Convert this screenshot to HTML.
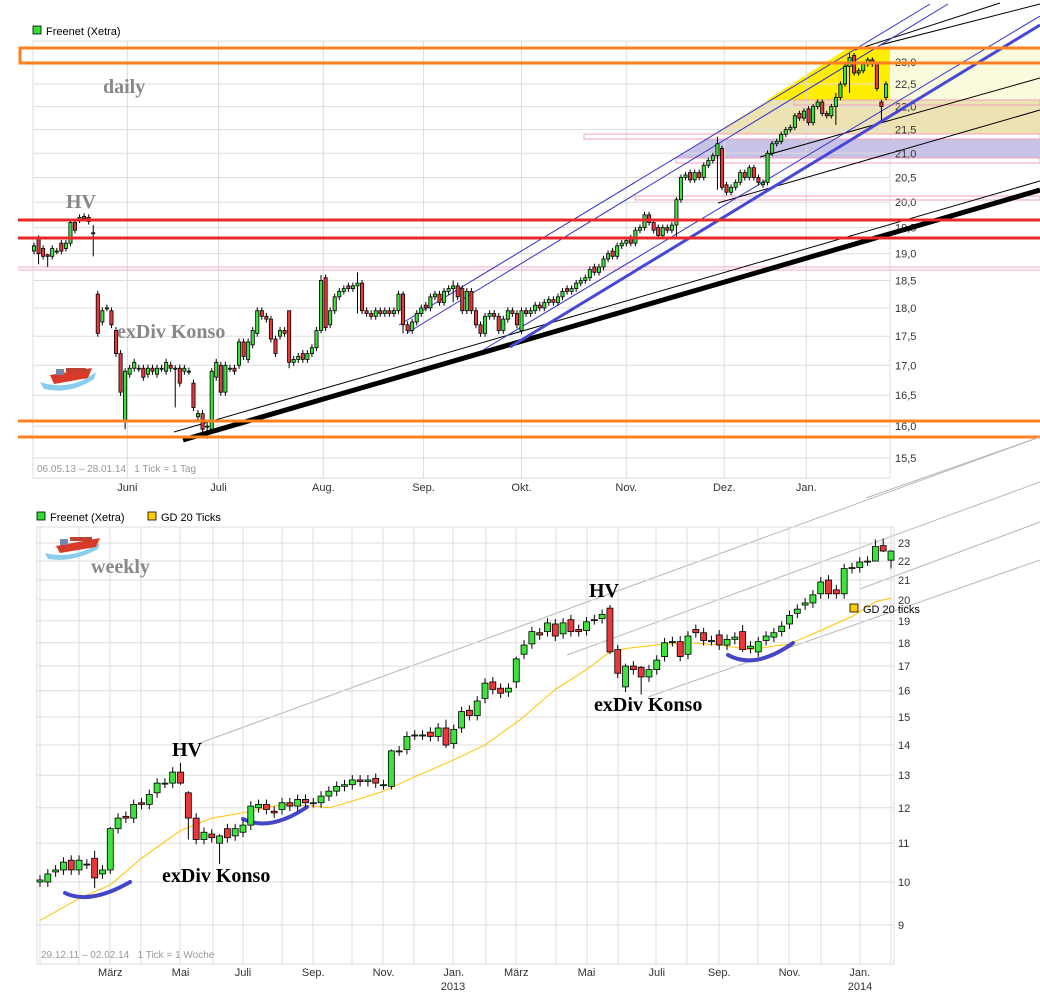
<!DOCTYPE html>
<html><head><meta charset="utf-8"><style>
html,body{margin:0;padding:0;background:#fff;}
svg{display:block;font-family:"Liberation Sans",sans-serif;}
.ann{font-family:"Liberation Serif",serif;font-weight:bold;font-size:20px;}
</style></head><body>
<svg id="chart" width="1040" height="998" viewBox="0 0 1040 998" xmlns="http://www.w3.org/2000/svg">
<g id="daily"></g>
<g id="weekly"></g>
</svg>
<script>
// ===== Daily data (06.05.13 - 28.01.14) =====
const dOpen = [19.05,19.3,19.1,18.98,18.95,19.05,19.2,19.1,19.2,19.6,19.65,19.72,19.7,19.4,
18.25,17.75,18.0,17.95,17.6,17.2,
16.1,16.85,16.95,16.95,16.95,16.85,16.95,16.85,16.95,16.9,17.0,16.95,16.95,16.9,16.9,16.7,16.15,16.2,16.0,
15.95,16.8,17.0,16.55,16.95,16.95,17.0,17.4,17.1,17.35,
17.55,17.95,17.85,17.8,17.45,17.5,17.6,
17.95,17.05,17.1,17.2,17.1,17.2,17.3,
17.6,18.55,17.7,17.95,18.2,18.3,18.4,18.35,
18.4,18.45,17.95,17.9,17.85,17.95,17.9,17.95,17.9,17.95,
18.25,17.7,17.6,17.75,17.9,18.05,18.0,18.2,18.25,18.1,18.3,
18.35,18.4,18.35,17.95,18.3,17.95,17.7,17.55,
17.85,17.9,17.85,17.6,17.8,17.95,17.9,
17.6,17.95,17.9,17.95,18.05,18.0,18.1,18.15,
18.1,18.2,18.35,18.3,18.35,18.45,18.5,18.55,18.75,
18.65,18.75,18.9,19.05,18.95,19.15,19.2,19.3,19.2,
19.45,19.5,19.75,19.6,19.5,19.35,19.5,19.45,
19.55,20.05,20.5,20.6,20.45,20.6,20.5,20.75,20.85,
20.95,21.1,20.35,20.2,20.3,20.4,
20.6,20.5,20.7,20.5,20.35,20.4,
21.0,21.2,21.25,21.4,21.5,21.55,
21.85,21.75,21.95,21.65,22.0,22.1,21.85,21.8,
22.0,22.2,22.5,22.9,23.15,22.75,
22.8,22.95,23.05,22.95,22.1,22.2];
const dClose = [19.15,19.0,18.95,18.95,19.1,19.05,19.05,19.2,19.6,19.45,19.7,19.68,19.62,19.4,
17.55,17.95,18.0,17.7,17.2,16.55,
16.9,16.95,17.05,16.95,16.8,16.95,16.9,16.95,16.95,17.05,16.95,16.95,16.7,16.95,16.9,16.3,16.2,15.95,16.0,
16.9,17.05,16.55,17.0,16.95,16.9,17.4,17.15,17.4,17.6,
17.95,17.85,17.8,17.45,17.2,17.6,17.55,
17.05,17.1,17.15,17.1,17.2,17.3,17.6,
18.5,17.65,17.95,18.2,18.3,18.35,18.35,18.4,
18.45,17.95,17.9,17.85,17.95,17.9,17.95,17.9,17.95,18.25,
17.7,17.6,17.75,17.9,18.0,18.0,18.2,18.25,18.1,18.3,18.35,
18.4,18.2,17.95,18.3,17.95,17.7,17.55,17.85,
17.9,17.85,17.6,17.8,17.95,17.9,17.7,
17.95,17.9,17.95,18.05,18.0,18.1,18.15,18.1,
18.2,18.3,18.3,18.35,18.45,18.5,18.55,18.7,18.65,
18.75,18.9,19.0,18.95,19.15,19.2,19.25,19.2,19.45,
19.5,19.75,19.6,19.45,19.35,19.5,19.45,19.55,
20.05,20.5,20.55,20.45,20.6,20.5,20.75,20.85,20.95,
21.2,20.3,20.2,20.3,20.4,20.6,
20.5,20.7,20.5,20.4,20.4,21.0,
21.2,21.25,21.4,21.5,21.55,21.8,
21.75,21.9,21.65,22.0,22.1,21.85,21.8,22.0,
22.2,22.5,22.9,23.1,22.75,22.8,
22.95,23.05,22.95,22.4,22.0,22.5];
const dWick = {1:[19.35,18.8],3:[19.0,18.75],13:[19.55,18.95],20:[16.95,15.95],31:[17.0,16.3],38:[16.05,15.8],39:[16.95,15.9],56:[17.95,16.95],63:[18.6,17.55],71:[18.65,17.9],81:[18.3,17.55],92:[18.5,18.1],141:[20.1,19.3],150:[21.35,20.25],176:[22.3,21.6],179:[23.2,22.3],186:[22.15,21.7]};
const dTicks = [23.0,22.5,22.0,21.5,21.0,20.5,20.0,19.5,19.0,18.5,18.0,17.5,17.0,16.5,16.0,15.5];
const dMonths = ["Juni","Juli","Aug.","Sep.","Okt.","Nov.","Dez.","Jan."];
const dMonthIdx = [20.5,40.5,63.5,85.5,107,130,151.5,169.5];

// ===== Weekly data (29.12.11 - 02.02.14) =====
const wOpen = [10.0,10.0,10.25,10.3,10.55,10.3,10.45,10.6,10.2,10.3,
11.4,11.75,11.7,12.15,12.1,12.45,12.75,12.75,13.1,12.45,
11.7,11.1,11.25,11.0,11.4,11.2,11.3,11.5,12.0,12.1,
11.9,11.95,12.15,12.05,12.25,12.15,12.15,12.35,12.5,12.65,
12.7,12.85,12.8,12.9,12.7,12.65,13.8,13.85,14.35,14.35,
14.45,14.3,14.6,14.05,14.6,15.25,15.05,15.7,16.35,16.1,15.95,16.35,
17.5,17.95,18.45,18.5,18.85,18.4,19.05,18.6,18.55,19.05,
19.1,19.6,17.7,16.15,17.0,16.95,16.55,16.85,17.4,18.05,
18.05,17.5,18.6,18.45,18.1,18.35,17.9,18.15,18.5,17.75,
17.6,18.1,18.25,18.5,18.85,19.35,19.75,19.85,20.3,21.0,
20.5,20.3,21.6,21.65,22.0,22.0,22.85,22.05];
const wClose = [10.05,10.2,10.3,10.5,10.3,10.55,10.45,10.1,10.3,11.4,
11.7,11.7,12.1,12.1,12.4,12.75,12.75,13.1,12.75,11.7,
11.1,11.3,11.15,11.2,11.15,11.4,11.5,12.05,12.1,11.95,
11.85,12.15,12.05,12.25,12.15,12.15,12.35,12.5,12.65,12.7,
12.85,12.8,12.85,12.75,12.7,13.8,13.8,14.3,14.35,14.35,
14.3,14.6,14.0,14.55,15.2,15.05,15.6,16.3,16.05,15.9,16.1,17.3,
17.9,18.5,18.35,18.9,18.3,18.9,18.5,18.5,18.95,19.05,
19.3,17.6,16.7,17.0,16.85,16.55,16.85,17.25,18.0,18.05,
17.4,18.3,18.45,18.1,18.1,17.9,18.15,18.25,17.7,17.85,
18.05,18.3,18.45,18.75,19.25,19.55,19.85,20.25,20.9,20.3,
20.3,21.6,21.65,21.95,22.0,22.8,22.55,22.55];
const wWick = {7:[10.8,9.85],9:[11.45,10.2],18:[13.4,12.7],19:[12.5,11.1],23:[11.25,10.45],45:[13.85,12.55],52:[14.9,13.9],61:[17.4,16.1],73:[19.75,17.5],75:[17.1,15.95],77:[17.0,15.85],82:[18.3,17.2],90:[18.8,17.6],107:[23.2,22.0],108:[23.25,22.5],109:[22.6,21.6]};
const gdIdx = [0,5,9,13,18,22,26,31,35,37,40,44,48,53,57,61.5,66,70,73,75,79,83,87,91,96,100,104,107,109];
const gdVal = [9.1,9.6,9.93,10.6,11.35,11.7,11.85,12.1,12.05,12.0,12.2,12.5,12.95,13.5,14.0,14.9,16.05,16.85,17.6,17.75,17.9,18.0,17.9,17.7,17.95,18.55,19.2,19.9,20.1];
const wTicks = [23,22,21,20,19,18,17,16,15,14,13,12,11,10,9];
const wMonths = ["März","Mai","Juli","Sep.","Nov.","Jan.","März","Mai","Juli","Sep.","Nov.","Jan."];
const wMonthIdx = [9,18,26,35,44,53,61,70,79,87,96,105];

const NS="http://www.w3.org/2000/svg";
function mk(parent,tag,attrs){const e=document.createElementNS(NS,tag);for(const k in attrs)e.setAttribute(k,attrs[k]);parent.appendChild(e);return e;}
const GREEN="#3de23d",RED="#e8383c";

// ---------- DAILY ----------
const D=document.getElementById('daily');
const dL=33,dR=890,dT=41,dB=478;
const dX=i=>34+i*(886-34)/(dClose.length-1);
const dY=v=>62+Math.log(23/v)*1003.3;
let r=mk(D,'rect',{x:dL,y:dT,width:dR-dL,height:dB-dT,fill:'#fff',stroke:'#ddd'});

// zones
let z=mk(D,'polygon',{points:'848,48 890,48 890,100 767,100',fill:'#ffee00'});

z=mk(D,'rect',{x:890,y:48,width:150,height:52,fill:'#fafadc'});

z=mk(D,'polygon',{points:'767,100 1040,100 1040,134 714,134',fill:'#ede2b4'});

z=mk(D,'polygon',{points:'706,139 1040,139 1040,158 675,158',fill:'#c8c2e6'});

// grid
dTicks.forEach(v=>{const y=dY(v);
 let g=mk(D,'line',{x1:dL,x2:dR,y1:y,y2:y,stroke:'#ddd'});
 let t=mk(D,'text',{x:895,y:y+4,'font-size':11,fill:'#333'});t.textContent=v.toFixed(1).replace('.',',');
 });
dMonths.forEach((m,k)=>{const x=dX(dMonthIdx[k]);
 let g=mk(D,'line',{x1:x,x2:x,y1:dT,y2:dB,stroke:'#ddd'});
 let t=mk(D,'text',{x:x,y:491,'font-size':11,fill:'#333','text-anchor':'middle'});t.textContent=m;
 });
// pink rects
[[794,100,246,5],[584,134,456,5],[676,158,364,5],[635,196,405,4]].forEach(a=>{
 let p=mk(D,'rect',{x:a[0],y:a[1],width:a[2],height:a[3],fill:'none',stroke:'#f4a0b8'});
 });
// horizontal levels
let h=mk(D,'line',{x1:18,x2:1040,y1:267,y2:267,stroke:'#f4a8c0'});
h=mk(D,'line',{x1:18,x2:1040,y1:270,y2:270,stroke:'#f4a8c0'});
// annotation lines
const lines=[[183,440,1040,190,'#000',5,'thick-black-trend'],[174,432,1040,181,'#000',1,'thin-black-trend'],
[718,203,1040,110,'#000',1,'black-trend-line'],[760,157,1040,78,'#000',1,'black-trend-line'],[880,45,1040,4,'#000',1,'black-trend-line'],[855,50,1000,3,'#000',1,'black-trend-line'],
[399,325,930,4,'#3333cc',1,'blue-channel-line'],[407,333,948,4,'#3333cc',1,'blue-channel-line'],[483,350,1040,16,'#3333cc',1,'blue-channel-line'],
[510,347,1040,25,'#4848d8',3,'thick-blue-trend']];
lines.forEach(a=>{let l=mk(D,'line',{x1:a[0],y1:a[1],x2:a[2],y2:a[3],stroke:a[4],'stroke-width':a[5]});
 });
// candles daily
dClose.forEach((c,i)=>{const o=dOpen[i];const x=dX(i);
 const w=dWick[i]||[Math.max(o,c)+0.06,Math.min(o,c)-0.06];
 const g=mk(D,'g',{});
 
 
 mk(g,'line',{x1:x,x2:x,y1:dY(w[0]),y2:dY(w[1]),stroke:'#000'});
 const yt=dY(Math.max(o,c)),yb=dY(Math.min(o,c));
 mk(g,'rect',{x:x-1.6,y:yt,width:3.2,height:Math.max(1,yb-yt),fill:c>=o?GREEN:RED,stroke:'#000','stroke-width':0.8});});
// red / orange levels
[[220,'#e82828','red-resistance'],[238,'#e82828','red-resistance'],[421,'#ff8020','orange-support'],[437,'#ff8020','orange-support']].forEach(a=>{
 let l=mk(D,'line',{x1:18,x2:1040,y1:a[0],y2:a[0],stroke:a[1],'stroke-width':3});});
let ob=mk(D,'rect',{x:20,y:48,width:1025,height:15,fill:'none',stroke:'#ff8020','stroke-width':3});

// weekly gray lines
const W=document.getElementById('weekly');
[[200,743,1040,437],[567,655,1040,482],[648,697,1040,560],[860,589,1040,522],[866,498,1040,437]].forEach(a=>{
 let l=mk(W,'line',{x1:a[0],y1:a[1],x2:a[2],y2:a[3],stroke:'#b8b8b8'});});

// ---------- WEEKLY ----------
const wL=37,wR=894,wT=527,wB=964;
const wX=i=>40+i*(891-40)/(wClose.length-1);
const wY=v=>543+Math.log(23/v)*407;
r=mk(W,'rect',{x:wL,y:wT,width:wR-wL,height:wB-wT,fill:'none',stroke:'#ddd'});

wTicks.forEach(v=>{const y=wY(v);
 let g=mk(W,'line',{x1:wL,x2:wR,y1:y,y2:y,stroke:'#ddd'});
 let t=mk(W,'text',{x:898,y:y+4,'font-size':11,fill:'#333'});t.textContent=String(v);
 });
const vg=[40,79,110,141,180,213,243,282,313,352,383,414,453,486,516,556,587,618,656,687,719,758,789,821,860,891];
vg.forEach(x=>{let g=mk(W,'line',{x1:x,x2:x,y1:wT,y2:wB,stroke:'#ddd'});});
wMonths.forEach((m,k)=>{const x=wX(wMonthIdx[k]);
 let t=mk(W,'text',{x:x,y:976,'font-size':11,fill:'#333','text-anchor':'middle'});t.textContent=m;
 });
[[453,'2013'],[860,'2014']].forEach(a=>{let t=mk(W,'text',{x:a[0],y:990,'font-size':11,fill:'#333','text-anchor':'middle'});t.textContent=a[1];
 });
// GD20
let pts=gdIdx.map((k,j)=>wX(k).toFixed(1)+','+wY(gdVal[j]).toFixed(1)).join(' ');
let gd=mk(W,'polyline',{points:pts,fill:'none',stroke:'#ffc400','stroke-width':1});

// blue swooshes
[['M65,893 Q90,905 130,882'],['M243,819 Q270,832 307,807'],['M728,655 Q755,670 793,643']].forEach(a=>{
 let p=mk(W,'path',{d:a[0],fill:'none',stroke:'#4545c8','stroke-width':4,'stroke-linecap':'round'});
 });
// weekly candles
wClose.forEach((c,i)=>{const o=wOpen[i];const x=wX(i);
 const w=wWick[i]||[Math.max(o,c)*1.012,Math.min(o,c)*0.988];
 const g=mk(W,'g',{});
 
 
 mk(g,'line',{x1:x,x2:x,y1:wY(w[0]),y2:wY(w[1]),stroke:'#000'});
 const yt=wY(Math.max(o,c)),yb=wY(Math.min(o,c));
 mk(g,'rect',{x:x-3,y:yt,width:6,height:Math.max(1,yb-yt),fill:c>=o?GREEN:RED,stroke:'#000','stroke-width':0.8});});
</script>
<!-- static labels -->
<svg style="position:absolute;left:0;top:0" width="1040" height="998">
<g font-family="Liberation Sans, sans-serif" font-size="11">
<rect x="33" y="26" width="8" height="8" fill="#33dd33" stroke="#000" stroke-width="0.8"/>
<text x="46" y="35" fill="#000">Freenet (Xetra)</text>
<rect x="37" y="512" width="8" height="8" fill="#33dd33" stroke="#000" stroke-width="0.8"/>
<text x="50" y="521" fill="#000">Freenet (Xetra)</text>
<rect x="148" y="512" width="8" height="8" fill="#ffcc00" stroke="#000" stroke-width="0.8"/>
<text x="161" y="521" fill="#000">GD 20 Ticks</text>
<rect x="850" y="604" width="8" height="8" fill="#ffcc00" stroke="#000" stroke-width="0.8"/>
<text x="863" y="613" fill="#000">GD 20 ticks</text>
<text x="37" y="472" fill="#999" font-size="10">06.05.13 – 28.01.14&#160;&#160;&#160;1 Tick = 1 Tag</text>
<text x="41" y="958" fill="#999" font-size="10">29.12.11 – 02.02.14&#160;&#160;&#160;1 Tick = 1 Woche</text>
</g>
<g class="ann">
<text x="103" y="93" fill="#888">daily</text>
<text x="66" y="208" fill="#888">HV</text>
<text x="117" y="338" fill="#888">exDiv Konso</text>
<text x="91" y="573" fill="#888">weekly</text>
<text x="172" y="756" fill="#000">HV</text>
<text x="162" y="882" fill="#000">exDiv Konso</text>
<text x="589" y="597" fill="#000">HV</text>
<text x="594" y="711" fill="#000">exDiv Konso</text>
</g>
<g>
<path d="M40,382 Q70,392 96,372 L94,379 Q70,395 44,389 Z" fill="#88ccee"/>
<path d="M50,375 L92,368 L88,378 L54,384 Z" fill="#d83a2a"/>
<rect x="56" y="369" width="8" height="6" fill="#7788aa"/><rect x="66" y="368" width="20" height="4" fill="#c04030"/>
</g>
<g>
<path d="M45,553 Q72,560 100,543 L98,549 Q72,563 48,559 Z" fill="#88ccee"/>
<path d="M56,546 L100,538 L96,547 L60,553 Z" fill="#d83a2a"/>
<rect x="60" y="539" width="8" height="6" fill="#7788aa"/><rect x="70" y="537" width="22" height="4" fill="#c04030"/>
</g>
</svg>
</body></html>
